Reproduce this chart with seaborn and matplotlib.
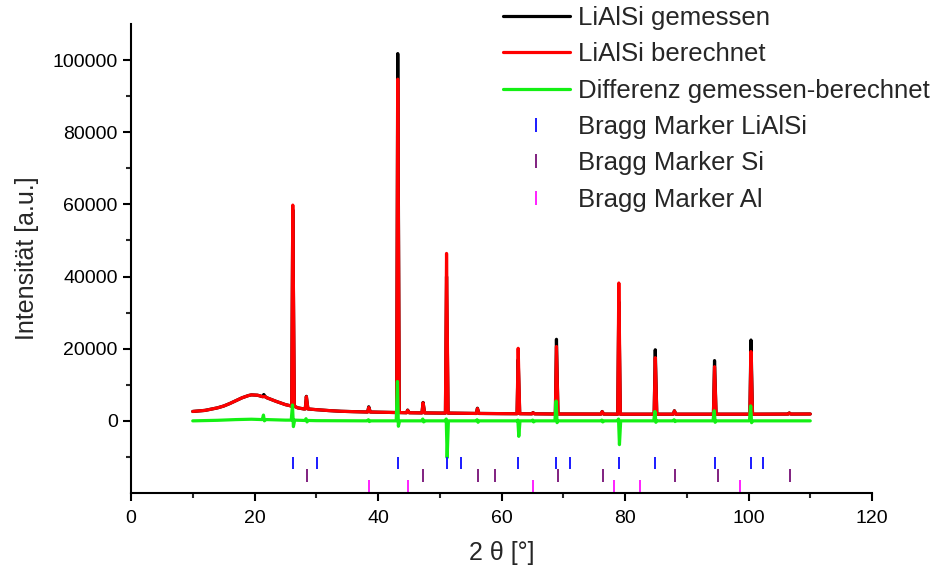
import numpy as np
import pandas as pd
import matplotlib
matplotlib.use("Agg")
import matplotlib.pyplot as plt
from matplotlib.lines import Line2D
import seaborn as sns

# ---------------- data ----------------
# background of the pattern (2theta, intensity)
bg_x = [10.0, 12.0, 14.0, 15.0, 16.0, 17.0, 18.0, 19.0, 19.5, 20.5, 22.0, 23.5,
        25.0, 26.0, 27.0, 28.0, 30.0, 32.0, 34.0, 36.0, 40.0, 45.0, 50.0, 60.0,
        70.0, 80.0, 90.0, 100.0, 110.0]
bg_y = [2600, 2900, 3600, 4100, 4800, 5600, 6400, 7000, 7200, 7100, 6400, 5400,
        4500, 4100, 3600, 3300, 3100, 2850, 2650, 2550, 2400, 2250, 2150, 2000,
        1900, 1850, 1850, 1850, 1900]

# reflections: position, background level under the peak, measured top, calculated top
peak_pos  = [21.5, 26.2, 28.4, 38.5, 43.2, 44.8, 47.3, 51.1, 56.1, 62.7, 65.1,
             68.9, 76.3, 79.0, 84.9, 88.0, 94.5, 100.4, 106.6]
peak_base = [6700, 4050, 3300, 2450, 2300, 2250, 2200, 2150, 2050, 1980, 1950,
             1900, 1880, 1850, 1850, 1850, 1850, 1850, 1880]
peak_meas = [7300, 58500, 6800, 3900, 101800, 3000, 5100, 40000, 3500, 17000, 2300,
             22600, 2600, 33000, 19700, 2800, 16700, 22400, 2200]
peak_calc = [6700, 59800, 6700, 3700, 94700, 2900, 5000, 46400, 3400, 20100, 2250,
             20600, 2550, 38200, 17500, 2750, 15000, 19200, 2150]

# difference curve: slowly varying baseline + spikes at reflections
diff_bg_x = [10.0, 14.0, 17.0, 19.5, 22.0, 25.0, 30.0, 40.0, 60.0, 80.0, 110.0]
diff_bg_y = [0, 150, 350, 450, 350, 200, 50, 0, 0, 0, 0]
diff_pos  = [21.5, 26.2, 28.4, 38.5, 43.2, 47.3, 51.1, 56.1, 62.7, 65.1, 68.9,
             76.3, 79.0, 84.9, 88.0, 94.5, 100.4]
diff_base = [350, 200, 100, 0, 0, 0, 0, 0, 0, 0, 0, 0, 0, 0, 0, 0, 0]
diff_up   = [1600, 4400, 600, 300, 10900, 500, 500, 300, 200, 200, 5500, 200, 500,
             2600, 300, 2800, 4150]
diff_down = [0, -1600, -300, -200, -1500, -300, -10200, -400, -4300, -300, -500,
             -300, -6600, -400, -200, -400, -500]

# Bragg marker positions
bragg_lialsi = [26.2, 30.2, 43.2, 51.1, 53.4, 62.7, 68.9, 71.1, 79.0, 84.9, 94.5,
                100.4, 102.3]
bragg_si = [28.45, 47.35, 56.2, 58.9, 69.1, 76.4, 88.05, 95.0, 106.75]
bragg_al = [38.5, 44.8, 65.1, 78.2, 82.4, 98.7]

labels = ["LiAlSi gemessen", "LiAlSi berechnet", "Differenz gemessen-berechnet",
          "Bragg Marker LiAlSi", "Bragg Marker Si", "Bragg Marker Al"]

# ---------------- build polylines from the read values ----------------
HW_L, HW_R = 0.18, 0.25   # peak half widths (drawing shape only)

def pattern(tops):
    xs = list(bg_x)
    ys = list(bg_y)
    for p, b, t in zip(peak_pos, peak_base, tops):
        xs += [p - HW_L, p, p + HW_R]
        ys += [b, t, b]
    df = pd.DataFrame({"x": xs, "y": ys}).sort_values("x", kind="mergesort")
    keep = np.ones(len(df), bool)
    for p in peak_pos:
        inside = (df["x"] > p - HW_L) & (df["x"] < p + HW_R) & (df["x"] != p)
        keep &= ~inside.values
    return df[keep].reset_index(drop=True)

meas_df = pattern(peak_meas)
calc_df = pattern(peak_calc)

dxs = list(diff_bg_x)
dys = list(diff_bg_y)
for p, b, u, d in zip(diff_pos, diff_base, diff_up, diff_down):
    dxs += [p - 0.25, p - 0.05, p + 0.1, p + 0.3]
    dys += [b, u, d, b]
diff_df = pd.DataFrame({"x": dxs, "y": dys}).sort_values("x", kind="mergesort")
keep = np.ones(len(diff_df), bool)
for p in diff_pos:
    inside = (diff_df["x"] > p - 0.25) & (diff_df["x"] < p + 0.3) & \
             (~diff_df["x"].isin([p - 0.05, p + 0.1]))
    keep &= ~inside.values
diff_df = diff_df[keep].reset_index(drop=True)

# ---------------- plot ----------------
sns.set_style("ticks")
plt.rcParams["font.family"] = ["Liberation Sans", "DejaVu Sans"]

fig = plt.figure(figsize=(9.36, 5.67), dpi=100)
ax = fig.add_axes([131 / 936, 1 - 493 / 567, (872 - 131) / 936, (493 - 24) / 567])

LW = 2.3
GREEN = "#14f014"
sns.lineplot(data=meas_df, x="x", y="y", ax=ax, color="black", lw=LW,
             estimator=None, sort=False)
sns.lineplot(data=calc_df, x="x", y="y", ax=ax, color="#ff0000", lw=LW,
             estimator=None, sort=False)
sns.lineplot(data=diff_df, x="x", y="y", ax=ax, color=GREEN, lw=LW,
             estimator=None, sort=False)

ax.vlines(bragg_lialsi, -13400, -10000, color="#1a1aff", lw=1.4)
ax.vlines(bragg_si, -16900, -13300, color="#802080", lw=1.4)
ax.vlines(bragg_al, -19800, -16300, color="#ff20ff", lw=1.4)

ax.set_xlim(0, 120)
ax.set_ylim(-20000, 110000)
ax.set_xticks(np.arange(0, 121, 20))
ax.set_xticks(np.arange(10, 120, 20), minor=True)
ax.set_yticks(np.arange(0, 100001, 20000))
ax.set_yticks(np.arange(-10000, 110000, 20000), minor=True)
ax.tick_params(axis="both", which="major", direction="out", length=6, width=1.5,
               labelsize=14, colors="black")
ax.tick_params(axis="x", which="major", pad=6)
ax.tick_params(axis="both", which="minor", direction="out", length=3.5, width=1.5)
for s in ["left", "bottom"]:
    ax.spines[s].set_linewidth(1.5)
    ax.spines[s].set_color("black")
sns.despine(ax=ax)

ax.set_xlabel("2 θ [°]", fontsize=18, labelpad=10)
ax.set_ylabel("Intensität [a.u.]", fontsize=18, labelpad=10)

handles = [
    Line2D([], [], color="black", lw=LW),
    Line2D([], [], color="#ff0000", lw=LW),
    Line2D([], [], color=GREEN, lw=LW),
    Line2D([], [], color="#1a1aff", marker="|", ls="None", markersize=10, mew=1.4),
    Line2D([], [], color="#802080", marker="|", ls="None", markersize=10, mew=1.4),
    Line2D([], [], color="#ff20ff", marker="|", ls="None", markersize=10, mew=1.4),
]
fig.legend(handles, labels, loc="upper left", bbox_to_anchor=(503 / 936, 1 - 6 / 567),
           frameon=False, fontsize=18.5, borderpad=0, borderaxespad=0,
           handlelength=2.6, handletextpad=0.3, labelspacing=0.48)

fig.savefig("out.png", dpi=100)
